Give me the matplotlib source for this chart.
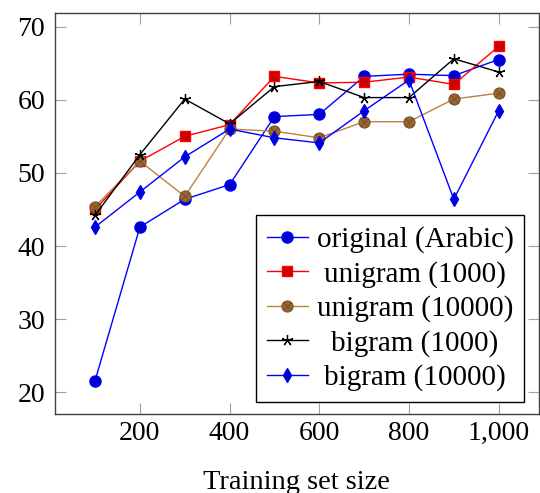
import numpy as np
import matplotlib
matplotlib.use("Agg")
import matplotlib.pyplot as plt
from matplotlib.path import Path
from matplotlib.ticker import FuncFormatter

plt.rcParams['font.family'] = ['Liberation Serif', 'DejaVu Serif']
plt.rcParams['font.size'] = 20

# data
sizes = [100, 200, 300, 400, 500, 600, 700, 800, 900, 1000]
original_arabic = [21.6, 42.6, 46.4, 48.4, 57.7, 58.0, 63.2, 63.5, 63.3, 65.5]
unigram_1000 = [45.0, 51.6, 55.0, 56.6, 63.2, 62.3, 62.4, 63.1, 62.1, 67.3]
unigram_10000 = [45.4, 51.6, 46.8, 56.0, 55.7, 54.8, 57.0, 57.0, 60.1, 60.9]
bigram_1000 = [44.2, 52.5, 60.1, 56.7, 61.8, 62.5, 60.3, 60.3, 65.6, 63.8]
bigram_10000 = [42.6, 47.4, 52.2, 56.0, 54.8, 54.1, 58.5, 62.7, 46.4, 58.5]

x_ticks = [200, 400, 600, 800, 1000]
y_ticks = [20, 30, 40, 50, 60, 70]

# circle with a cross (pgfplots otimes)
d = np.sqrt(0.5)
otimes = Path.make_compound_path(
    Path.unit_circle(),
    Path([[-d, -d], [d, d]], [Path.MOVETO, Path.LINETO]),
    Path([[-d, d], [d, -d]], [Path.MOVETO, Path.LINETO]),
)

fig = plt.figure(figsize=(5.4, 4.93), dpi=100)
ax = fig.add_axes([0.1013, 0.1596, 0.8969, 0.8146])

ax.plot(sizes, original_arabic, color='#0000ff', lw=1.0, marker='o', ms=8,
        mfc='#0000cc', mec='#0000ff', label='original (Arabic)')
ax.plot(sizes, unigram_1000, color='#ff0000', lw=1.0, marker='s', ms=7.5,
        mfc='#cc0000', mec='#ff0000', label='unigram (1000)')
ax.plot(sizes, unigram_10000, color='#bf8040', lw=1.0, marker=otimes, ms=8,
        mfc='#996633', mec='#7a5229', mew=0.8, label='unigram (10000)')
ax.plot(sizes, bigram_1000, color='black', lw=1.0, marker=(5, 2, 0), ms=8,
        mec='black', mew=0.9, label='bigram (1000)')
ax.plot(sizes, bigram_10000, color='#0000ff', lw=1.0, marker='d', ms=7.5,
        mfc='#0000cc', mec='#0000ff', label='bigram (10000)')

ax.set_xlim(10, 1090)
ax.set_ylim(17.0, 71.9)
ax.set_xticks(x_ticks)
ax.set_yticks(y_ticks)
ax.xaxis.set_major_formatter(FuncFormatter(lambda v, p: f"{int(v):,}"))
ax.tick_params(direction='in', length=7.8, width=0.8, color='#a0a0a0',
               top=True, right=True, labelsize=20)
ax.tick_params(axis='x', pad=5)
ax.tick_params(axis='y', pad=7)
for s in ax.spines.values():
    s.set_color('#404040')
    s.set_linewidth(1.0)

ax.set_xlabel('Training set size', fontsize=20.5, labelpad=17)

leg = ax.legend(loc='lower right', bbox_to_anchor=(0.97, 0.03), borderaxespad=0,
                fontsize=21, handlelength=1.4, handletextpad=0.3,
                labelspacing=0.26, borderpad=0.38, fancybox=False,
                edgecolor='black', framealpha=1)
leg.get_frame().set_linewidth(1.0)

# center legend entries like pgfplots does
fig.canvas.draw()
r = fig.canvas.get_renderer()
texts = leg.get_texts()
ws = [t.get_window_extent(r).width for t in texts]
mw = max(ws)
for t, w in zip(texts, ws):
    t.set_position(((mw - w) / 2, 0))

fig.savefig('out.png', dpi=100)
